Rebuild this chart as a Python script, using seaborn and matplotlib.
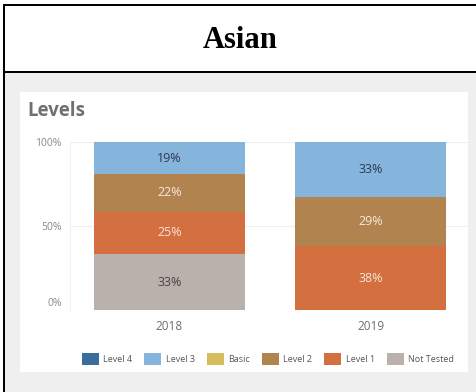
import matplotlib
matplotlib.use("Agg")
import matplotlib.pyplot as plt
from matplotlib.patches import Rectangle, Patch
from matplotlib.transforms import ScaledTranslation
import numpy as np
import pandas as pd
import seaborn as sns

# Data
years = ["2018", "2019"]
levels = ["Level 4", "Level 3", "Basic", "Level 2", "Level 1", "Not Tested"]
stack_order = ["Not Tested", "Level 1", "Level 2", "Level 3"]  # bottom to top
values_2018 = {"Not Tested": 33, "Level 1": 25, "Level 2": 22, "Level 3": 19}
values_2019 = {"Not Tested": 0, "Level 1": 38, "Level 2": 29, "Level 3": 33}
y_ticks = [0, 50, 100]
y_tick_labels = ["0%", "50%", "100%"]

colors = {
    "Level 4": "#3a6d99",
    "Level 3": "#85b4dc",
    "Basic": "#d6bd5c",
    "Level 2": "#b0834f",
    "Level 1": "#d4703f",
    "Not Tested": "#bab1ac",
}
label_colors = {
    "Level 3": "#2e3a4e",
    "Level 2": "#f6ebe0",
    "Level 1": "#f8e6da",
    "Not Tested": "#444444",
}

W, H = 477, 392
sns.set_theme(style="white")
plt.rcParams["font.family"] = ["Open Sans", "DejaVu Sans"]

fig = plt.figure(figsize=(W / 100, H / 100), dpi=100, edgecolor="none", linewidth=0)
fig.patch.set_facecolor("white")


def px_rect(x0, y0, x1, y1, **kw):
    """Rectangle given in image pixel coordinates (origin top-left)."""
    r = Rectangle((x0 / W, 1 - y1 / H), (x1 - x0) / W, (y1 - y0) / H,
                  transform=fig.transFigure, linewidth=0, **kw)
    fig.add_artist(r)
    return r


# Page frame and panel backgrounds
px_rect(5, 73, W, H, facecolor="#efefef", edgecolor="none", zorder=0)
px_rect(20, 92, 468, 372, facecolor="white", edgecolor="none", zorder=0.5)
px_rect(3, 3.5, W, 5.5, facecolor="black", edgecolor="none", zorder=1)
px_rect(3, 71, W, 73, facecolor="black", edgecolor="none", zorder=1)
px_rect(3, 3.5, 5, H, facecolor="black", edgecolor="none", zorder=1)

fig.text(240 / W, 1 - 40 / H, "Asian", ha="center", va="center",
         fontsize=22, fontweight="bold", family=["Liberation Serif", "DejaVu Serif"],
         color="black")
fig.text(27 / W, 1 - 111 / H, "Levels", ha="left", va="center",
         fontsize=13.5, fontweight="bold", color="#707070")

# Long-form table, normalised so each year stacks to 100%
rows = []
for year, vals in zip(years, [values_2018, values_2019]):
    total = sum(vals.values())
    cum = 0.0
    for lvl in stack_order:
        share = vals[lvl] / total * 100
        rows.append({"year": year, "level": lvl, "value": vals[lvl],
                     "bottom": cum, "top": cum + share})
        cum += share
df = pd.DataFrame(rows)

ax = fig.add_axes([70 / W, 1 - 310 / H, 398 / W, 168 / H])
ax.set_facecolor("none")
ax.set_zorder(2)

# Draw cumulative layers from the top of the stack down
for lvl in reversed(stack_order):
    sub = df[df["level"] == lvl]
    sns.barplot(data=sub, x="year", y="top", order=years, color=colors[lvl],
                width=0.75, saturation=1, ax=ax, linewidth=0, zorder=3)

for _, r in df.iterrows():
    if r["value"] > 0:
        ax.text(years.index(r["year"]), (r["bottom"] + r["top"]) / 2,
                f"{r['value']}%", ha="center", va="center", fontsize=9,
                color=label_colors[r["level"]], zorder=5)

ax.set_xlim(-0.495, 1.485)
ax.set_ylim(0, 100)
ax.set_yticks(y_ticks, y_tick_labels)
ax.set_xlabel("")
ax.set_ylabel("")
for y in y_ticks:
    ax.axhline(y, color="#efefef", lw=0.8, zorder=1)
for s in ["top", "right", "bottom"]:
    ax.spines[s].set_visible(False)
ax.spines["left"].set_color("#f0f0f0")
ax.spines["left"].set_linewidth(0.8)
ax.tick_params(axis="y", length=0, pad=6, labelsize=7.5, labelcolor="#8a8a8a")
ax.tick_params(axis="x", length=0, pad=7, labelsize=8.5, labelcolor="#6e6e6e")
lbl0 = ax.yaxis.get_major_ticks()[0].label1
lbl0.set_transform(lbl0.get_transform() + ScaledTranslation(0, 8 / 100, fig.dpi_scale_trans))

handles = [Patch(facecolor=colors[l], edgecolor="none", label=l) for l in levels]
fig.legend(handles=handles, loc="center", bbox_to_anchor=(268 / W, 1 - 359 / H),
           ncol=6, frameon=False, fontsize=6.5, handlelength=1.9, handleheight=1.7,
           handletextpad=0.5, columnspacing=1.3, labelcolor="#555555")

fig.savefig("out.png", dpi=100, facecolor="white", edgecolor="none")
